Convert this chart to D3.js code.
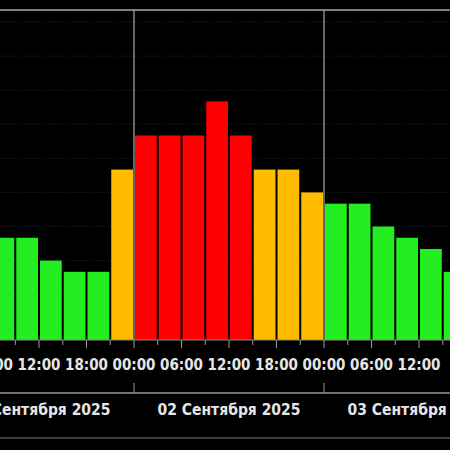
<!DOCTYPE html>
<html>
<head>
<meta charset="UTF-8">
<script src="https://d3js.org/d3.v7.min.js"></script>
<style>
  body { margin: 0; background: #000; }
  text { font-family: "Liberation Sans Narrow", "DejaVu Sans Condensed", sans-serif; font-weight: bold; fill: #e6e6e6; }
</style>
</head>
<body>
<svg id="chart" width="450" height="450"></svg>
<script>
// bar start hours, counted from 01 Sept 00:00
const startHours = [6, 9, 12, 15, 18, 21, 24, 27, 30, 33, 36, 39, 42, 45, 48, 51, 54, 57, 60, 63];
const kpValues = [3, 3, 2.33, 2, 2, 5, 6, 6, 6, 7, 6, 5, 5, 4.33, 4, 4, 3.33, 3, 2.67, 2];
const tickHours = [-6, 0, 6, 12, 18, 24, 30, 36, 42, 48, 54, 60];
const dayLabels = ["01 Сентября 2025", "02 Сентября 2025", "03 Сентября 2025"];

const svg = d3.select("#chart");
svg.append("rect").attr("width", 450).attr("height", 450).attr("fill", "#000");

const x = d3.scaleLinear().domain([0, 24]).range([-56, 134]);
const y = d3.scaleLinear().domain([0, 9.33]).range([340, 22]);

// dotted grid
d3.range(0.33, 9.5, 1).forEach(v => {
  svg.append("line").attr("x1", 0).attr("x2", 450).attr("y1", y(v)).attr("y2", y(v))
    .attr("stroke", "#3a3a3a").attr("stroke-width", 0.7).attr("stroke-dasharray", "1,2");
});

// frame
svg.append("line").attr("x1", 0).attr("x2", 450).attr("y1", 10).attr("y2", 10).attr("stroke", "#aaa").attr("stroke-width", 1.5);
[24, 48].forEach(h => {
  svg.append("line").attr("x1", x(h)).attr("x2", x(h)).attr("y1", 10).attr("y2", 340).attr("stroke", "#aaa").attr("stroke-width", 1.2);
});

const color = v => v >= 5.67 ? "#ff0000" : v > 4 ? "#ffbb00" : "#22ee22";

svg.selectAll("rect.bar").data(kpValues).enter().append("rect")
  .attr("class", "bar")
  .attr("x", (d, i) => x(startHours[i]) + 1)
  .attr("width", x(3) - x(0) - 2)
  .attr("y", d => y(d))
  .attr("height", d => y(0) - y(d))
  .attr("fill", d => color(d));

// hour axis
svg.append("line").attr("x1", 0).attr("x2", 450).attr("y1", 340).attr("y2", 340).attr("stroke", "#888");
d3.range(-9, 70, 3).forEach(h => {
  svg.append("line").attr("x1", x(h)).attr("x2", x(h)).attr("y1", 340).attr("y2", h % 6 === 0 ? 348 : 345)
    .attr("stroke", "#999");
});
svg.selectAll("text.hour").data(tickHours).enter().append("text")
  .attr("class", "hour")
  .attr("x", d => x(d)).attr("y", 370)
  .attr("text-anchor", "middle").attr("font-size", 15)
  .text(d => String(((d % 24) + 24) % 24).padStart(2, "0") + ":00");

// day axis
svg.append("line").attr("x1", 0).attr("x2", 450).attr("y1", 393).attr("y2", 393).attr("stroke", "#999").attr("stroke-width", 1.5);
[24, 48].forEach(h => {
  svg.append("line").attr("x1", x(h)).attr("x2", x(h)).attr("y1", 383).attr("y2", 393).attr("stroke", "#999");
});
svg.selectAll("text.day").data(dayLabels).enter().append("text")
  .attr("class", "day")
  .attr("x", (d, i) => x(i * 24 + 12)).attr("y", 415)
  .attr("text-anchor", "middle").attr("font-size", 15.5)
  .text(d => d);

svg.append("line").attr("x1", 0).attr("x2", 450).attr("y1", 438).attr("y2", 438).attr("stroke", "#555").attr("stroke-width", 1.5);
</script>
</body>
</html>
